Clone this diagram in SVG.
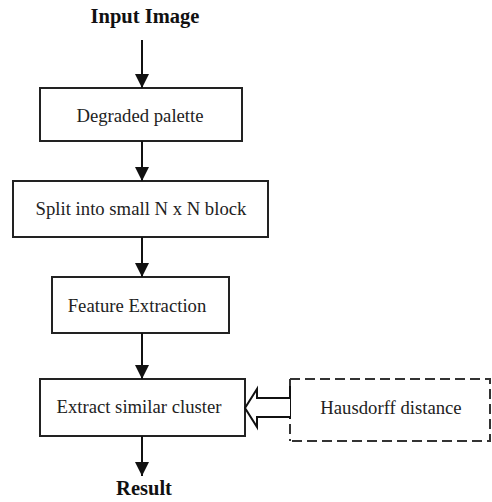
<svg xmlns="http://www.w3.org/2000/svg" width="492" height="502" viewBox="0 0 492 502">
<style>
.box{fill:#fff;stroke:#222;stroke-width:2}
.lbl{font-family:"Liberation Serif","Times New Roman",serif;font-size:18.7px;fill:#222;text-anchor:middle}
.ttl{font-family:"Liberation Serif","Times New Roman",serif;font-size:20.5px;font-weight:bold;fill:#111;text-anchor:middle}
.ln{stroke:#111;stroke-width:2;fill:none}
.dash{stroke:#333;stroke-width:2;fill:none;stroke-dasharray:10 5}
</style>
<defs>
<marker id="ah" markerUnits="userSpaceOnUse" markerWidth="14" markerHeight="16" refX="14" refY="7" orient="auto">
<path d="M0,0 L14,7 L0,14 Z" fill="#111"/>
</marker>
</defs>
<g id="input"><text class="ttl" x="145" y="23">Input Image</text></g>
<g id="degraded"><rect class="box" x="40" y="88" width="202" height="53"/><text class="lbl" x="140" y="122">Degraded palette</text></g>
<g id="split"><rect class="box" x="13" y="181" width="255" height="56"/><text class="lbl" x="141" y="215">Split into small N x N block</text></g>
<g id="feature"><rect class="box" x="52" y="277" width="177" height="56"/><text class="lbl" x="137" y="312">Feature Extraction</text></g>
<g id="extract"><rect class="box" x="40" y="379" width="205" height="57"/><text class="lbl" x="139" y="413">Extract similar cluster</text></g>
<g id="hausdorff">
<path class="dash" d="M290,379 H490 V441 H290"/>
<path class="dash" d="M290,379 V441"/>
<text class="lbl" x="391" y="414">Hausdorff distance</text>
</g>
<g id="result"><text class="ttl" x="144" y="495">Result</text></g>
<g id="connectors">
<line class="ln" x1="142" y1="40" x2="142" y2="88" marker-end="url(#ah)"/>
<line class="ln" x1="142" y1="141" x2="142" y2="181" marker-end="url(#ah)"/>
<line class="ln" x1="142" y1="237" x2="142" y2="277" marker-end="url(#ah)"/>
<line class="ln" x1="142" y1="333" x2="142" y2="379" marker-end="url(#ah)"/>
<line class="ln" x1="142" y1="436" x2="142" y2="476" marker-end="url(#ah)"/>
<path d="M290,386 V419" stroke="#111" stroke-width="2" fill="none"/>
<path d="M290,398 H257 V389 L245,408 L257,427 V417 H290" stroke="#111" stroke-width="2" fill="#fff" stroke-linejoin="miter"/>
</g>
</svg>
